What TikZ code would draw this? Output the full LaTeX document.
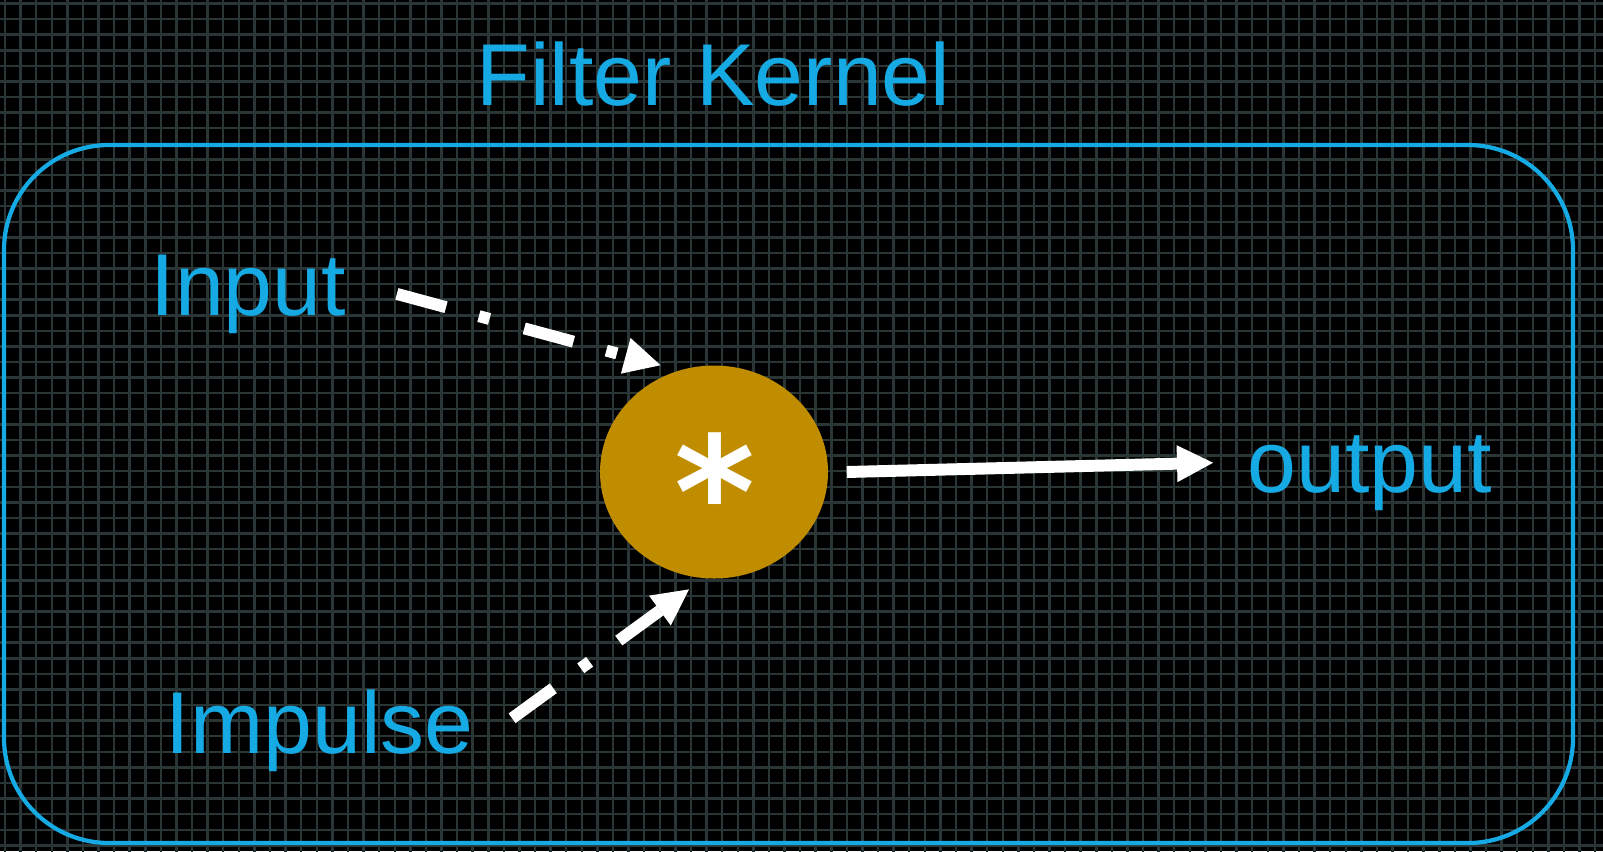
\documentclass[tikz,border=0pt]{standalone}
\usepackage{fontspec}
\setmainfont{Liberation Sans}
\newfontfamily\symfont{DejaVu Sans}
\usetikzlibrary{arrows.meta,positioning,shapes.geometric}
\definecolor{kblue}{RGB}{22,170,228}
\definecolor{kgold}{RGB}{192,140,0}
\definecolor{kgrid}{RGB}{42,54,54}

\begin{document}
\begin{tikzpicture}[
    every node/.style={font=\fontsize{25}{30}\selectfont},
    lbl/.style={text=kblue, inner sep=0pt, anchor=base west},
    frame/.style={draw=kblue, line width=1.2pt, rounded corners=1.05cm, minimum width=15.69cm, minimum height=6.98cm},
    conv/.style={ellipse, fill=kgold, minimum width=2.28cm, minimum height=2.13cm, inner sep=0pt},
    arr/.style={-{Triangle[length=0.37cm,width=0.34cm]}, white, line width=3.4pt},
    dasharr/.style={arr, dash pattern=on 0.51cm off 0.34cm on 0.11cm off 0.36cm}
]
\useasboundingbox (0,0) rectangle (16.03,-8.51);
\fill[black] (0,0) rectangle (16.03,-8.51);
\begin{scope}
\clip (0,0) rectangle (16.03,-8.51);
\draw[kgrid, line width=0.7pt, step=0.1559cm, shift={(0.05,-0.035)}] (-0.2,0.2) grid (16.2,-8.7);
\end{scope}

% Frame and title
\node[frame] (kernel) at (7.885,-4.94) {};
\node[lbl] (title) at (4.76,-1.05) {Filter Kernel};

% Convolution
\node[conv] (conv) at (7.14,-4.72) {};
\node[text=white, font=\symfont\bfseries\fontsize{44}{52}\selectfont, inner sep=0pt, anchor=base] (ast) at (7.15,-5.47) {*};

% Signals
\node[lbl] (inp) at (1.50,-3.15) {Input};
\node[lbl] (imp) at (1.65,-7.53) {Impulse};
\node[lbl] (out) at (12.47,-4.92) {output};

% Connections
\draw[dasharr] ([xshift=0.5cm]inp.east) -- ([shift={(-0.05,0.09)}]conv.116);
\draw[dasharr] ([shift={(0.38,0.12)}]imp.east) -- ([yshift=-0.12cm]conv.257);
\draw[arr] ([xshift=0.18cm]conv.east) -- ([shift={(-0.33,0.1)}]out.west);

\end{tikzpicture}
\end{document}
